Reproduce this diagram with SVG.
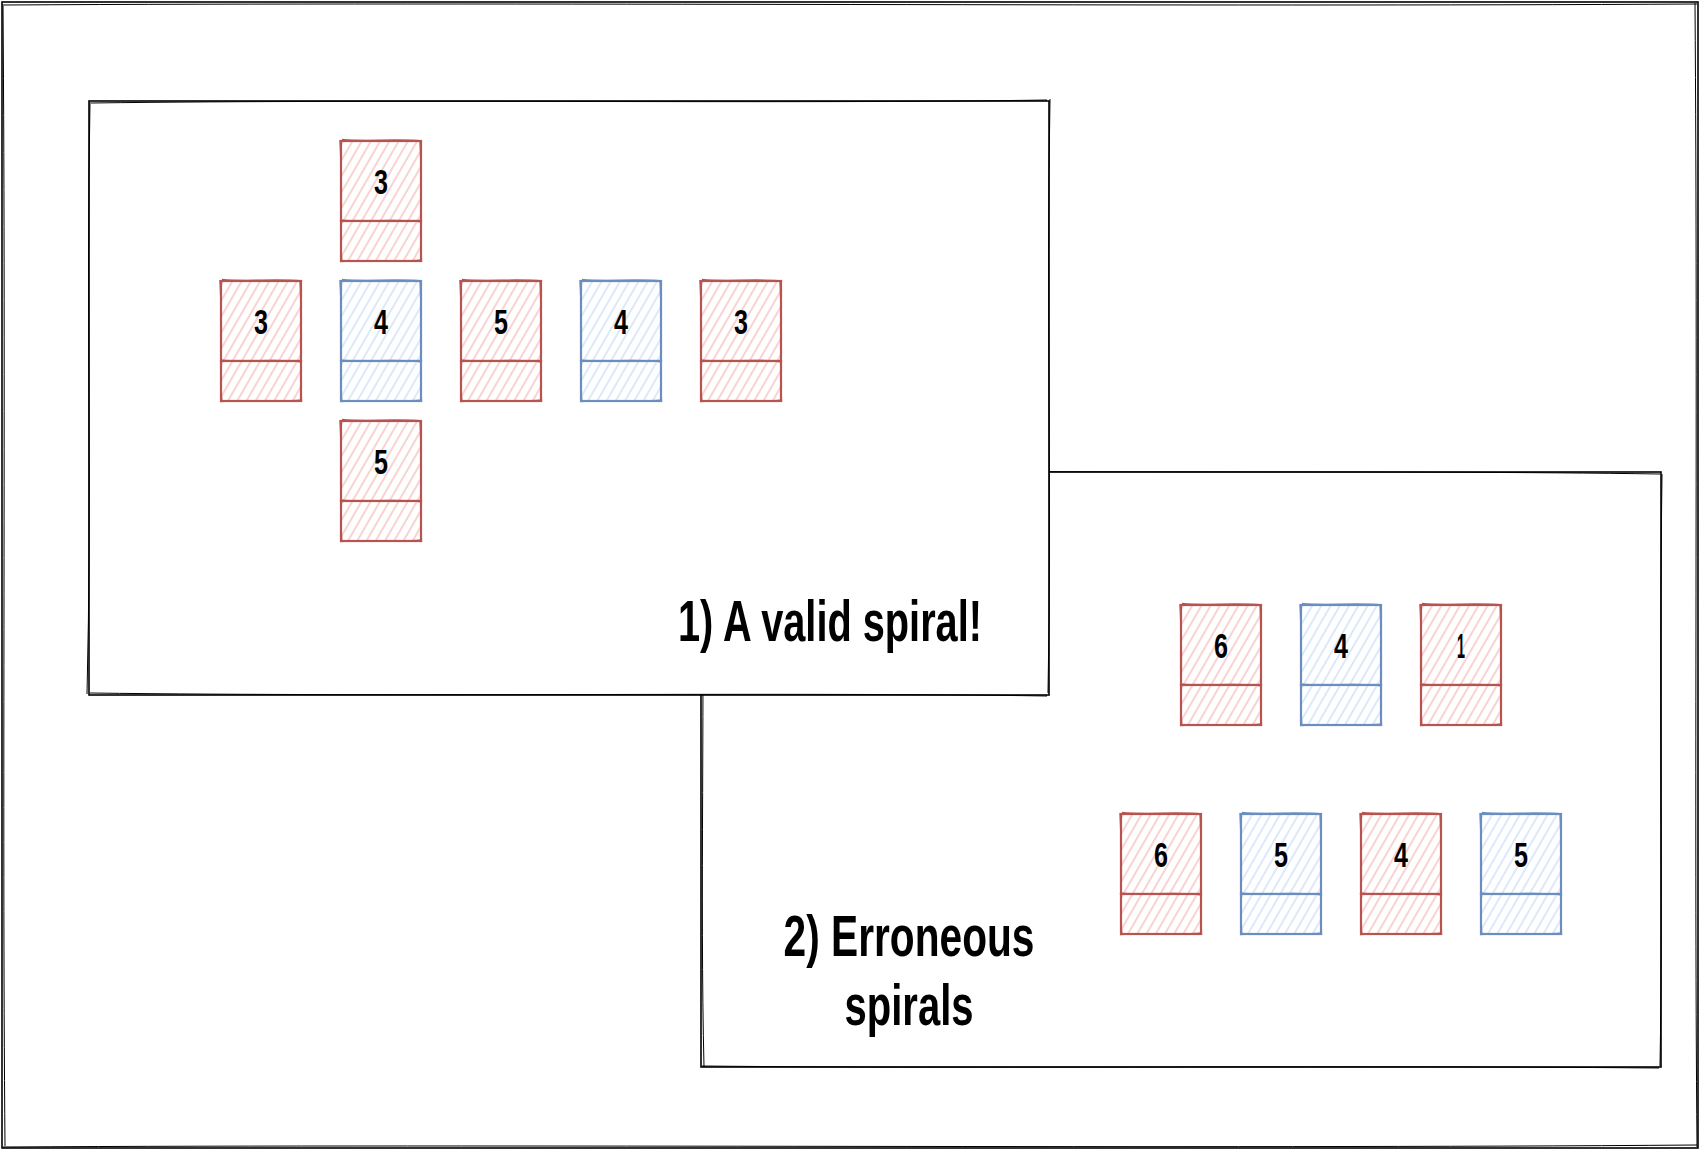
<svg xmlns="http://www.w3.org/2000/svg" xmlns:xlink="http://www.w3.org/1999/xlink" width="1702" height="1152" viewBox="0 0 1702 1152">
<style>
.frame{fill:#ffffff;stroke:#000000;stroke-width:1.6}
.frameJ{fill:none;stroke:#000000;stroke-width:1}
.red{color:#b85450}
.blue{color:#6c8ebf}
.red rect{fill:url(#hR);stroke:#b85450;stroke-width:2.2}
.blue rect{fill:url(#hB);stroke:#6c8ebf;stroke-width:2.2}
.num{font-family:"Liberation Sans",Arial,sans-serif;font-size:35px;font-weight:bold;fill:#000000;text-anchor:middle}
.title{font-family:"Liberation Sans",Arial,sans-serif;font-size:58px;font-weight:bold;fill:#000000;text-anchor:middle}
</style>
<defs>
<pattern id="hR" width="8" height="8" patternUnits="userSpaceOnUse" patternTransform="rotate(30)">
<rect width="8" height="8" fill="#ffffff"/>
<line x1="2" y1="0" x2="2" y2="8" stroke="#f4b6b4" stroke-width="1.2"/>
</pattern>
<pattern id="hB" width="8" height="8" patternUnits="userSpaceOnUse" patternTransform="rotate(30)">
<rect width="8" height="8" fill="#ffffff"/>
<line x1="2" y1="0" x2="2" y2="8" stroke="#c6dbf7" stroke-width="1.2"/>
</pattern>
<path id="skJ" d="M1,-1.5 C25,1 55,-2.5 81,0 M79,-1 C81.5,40 78.5,80 80.5,121 M81,119 C55,122 25,118 -1,120.5 M1,121 C-2,100 2.5,60 -1,-1 M-1,79 C25,82 55,77 81,81" fill="none" stroke="currentColor" stroke-width="1.5"/>
</defs>

<g id="outer-frame">
<rect class="frame" x="2" y="2" width="1696" height="1146"/>
<path class="frameJ" d="M4,5 C500,2 1200,7 1697,4 M1695,3 C1698,400 1694,800 1697,1147 M1697,1145 C1200,1149 500,1144 3,1147 M5,1146 C2,800 6,400 3,4"/>
</g>

<g id="box-2">
<rect class="frame" x="701" y="472" width="960" height="595"/>
<path class="frameJ" d="M703,469 C1000,474 1400,470 1660,474 M1662,474 C1659,700 1663,900 1660,1066 M1659,1068 C1300,1065 1000,1069 702,1066 M704,1067 C700,900 705,700 702,473"/>
</g>

<g id="box-1">
<rect class="frame" x="89" y="101" width="960" height="594"/>
<path class="frameJ" d="M91,103 C400,99 800,104 1047,100 M1050,99 C1046,300 1052,500 1048,693 M1047,696 C800,692 400,697 90,693 M87,694 C92,500 86,300 90,102"/>
</g>

<g id="connectors"></g>

<g id="card-1-top" class="red" transform="translate(341,141)">
<rect x="0" y="0" width="80" height="80"/><rect x="0" y="80" width="80" height="40"/><use xlink:href="#skJ"/>
<text class="num" x="40" y="53" textLength="14" lengthAdjust="spacingAndGlyphs">3</text></g>
<g id="card-1-r1" class="red" transform="translate(221,281)">
<rect x="0" y="0" width="80" height="80"/><rect x="0" y="80" width="80" height="40"/><use xlink:href="#skJ"/>
<text class="num" x="40" y="53" textLength="14" lengthAdjust="spacingAndGlyphs">3</text></g>
<g id="card-1-r2" class="blue" transform="translate(341,281)">
<rect x="0" y="0" width="80" height="80"/><rect x="0" y="80" width="80" height="40"/><use xlink:href="#skJ"/>
<text class="num" x="40" y="53" textLength="14" lengthAdjust="spacingAndGlyphs">4</text></g>
<g id="card-1-r3" class="red" transform="translate(461,281)">
<rect x="0" y="0" width="80" height="80"/><rect x="0" y="80" width="80" height="40"/><use xlink:href="#skJ"/>
<text class="num" x="40" y="53" textLength="14" lengthAdjust="spacingAndGlyphs">5</text></g>
<g id="card-1-r4" class="blue" transform="translate(581,281)">
<rect x="0" y="0" width="80" height="80"/><rect x="0" y="80" width="80" height="40"/><use xlink:href="#skJ"/>
<text class="num" x="40" y="53" textLength="14" lengthAdjust="spacingAndGlyphs">4</text></g>
<g id="card-1-r5" class="red" transform="translate(701,281)">
<rect x="0" y="0" width="80" height="80"/><rect x="0" y="80" width="80" height="40"/><use xlink:href="#skJ"/>
<text class="num" x="40" y="53" textLength="14" lengthAdjust="spacingAndGlyphs">3</text></g>
<g id="card-1-bottom" class="red" transform="translate(341,421)">
<rect x="0" y="0" width="80" height="80"/><rect x="0" y="80" width="80" height="40"/><use xlink:href="#skJ"/>
<text class="num" x="40" y="53" textLength="14" lengthAdjust="spacingAndGlyphs">5</text></g>

<g id="label-1"><text class="title" x="830" y="641" textLength="304" lengthAdjust="spacingAndGlyphs">1) A valid spiral!</text></g>

<g id="card-2-t1" class="red" transform="translate(1181,605)">
<rect x="0" y="0" width="80" height="80"/><rect x="0" y="80" width="80" height="40"/><use xlink:href="#skJ"/>
<text class="num" x="40" y="53" textLength="14" lengthAdjust="spacingAndGlyphs">6</text></g>
<g id="card-2-t2" class="blue" transform="translate(1301,605)">
<rect x="0" y="0" width="80" height="80"/><rect x="0" y="80" width="80" height="40"/><use xlink:href="#skJ"/>
<text class="num" x="40" y="53" textLength="14" lengthAdjust="spacingAndGlyphs">4</text></g>
<g id="card-2-t3" class="red" transform="translate(1421,605)">
<rect x="0" y="0" width="80" height="80"/><rect x="0" y="80" width="80" height="40"/><use xlink:href="#skJ"/>
<text class="num" x="40" y="53" textLength="8" lengthAdjust="spacingAndGlyphs">1</text></g>
<g id="card-2-b1" class="red" transform="translate(1121,814)">
<rect x="0" y="0" width="80" height="80"/><rect x="0" y="80" width="80" height="40"/><use xlink:href="#skJ"/>
<text class="num" x="40" y="53" textLength="14" lengthAdjust="spacingAndGlyphs">6</text></g>
<g id="card-2-b2" class="blue" transform="translate(1241,814)">
<rect x="0" y="0" width="80" height="80"/><rect x="0" y="80" width="80" height="40"/><use xlink:href="#skJ"/>
<text class="num" x="40" y="53" textLength="14" lengthAdjust="spacingAndGlyphs">5</text></g>
<g id="card-2-b3" class="red" transform="translate(1361,814)">
<rect x="0" y="0" width="80" height="80"/><rect x="0" y="80" width="80" height="40"/><use xlink:href="#skJ"/>
<text class="num" x="40" y="53" textLength="14" lengthAdjust="spacingAndGlyphs">4</text></g>
<g id="card-2-b4" class="blue" transform="translate(1481,814)">
<rect x="0" y="0" width="80" height="80"/><rect x="0" y="80" width="80" height="40"/><use xlink:href="#skJ"/>
<text class="num" x="40" y="53" textLength="14" lengthAdjust="spacingAndGlyphs">5</text></g>

<g id="label-2">
<text class="title" x="909" y="956" textLength="251" lengthAdjust="spacingAndGlyphs">2) Erroneous</text>
<text class="title" x="909" y="1025" textLength="129" lengthAdjust="spacingAndGlyphs">spirals</text>
</g>
</svg>
